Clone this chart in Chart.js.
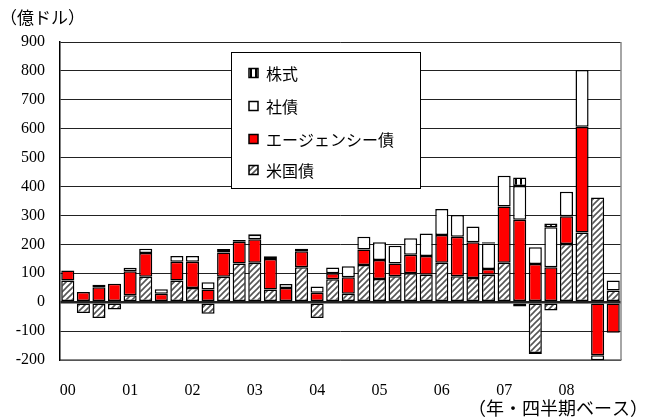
<!DOCTYPE html>
<html>
<head>
<meta charset="utf-8">
<script src="https://cdn.jsdelivr.net/npm/chart.js@4/dist/chart.umd.min.js"></script>
<style>
  html, body { margin: 0; padding: 0; background: #fff; }
  #wrap { width: 649px; height: 419px; position: relative; }
</style>
</head>
<body>
<div id="wrap"><canvas id="c" width="649" height="419"></canvas></div>
<script>
// Quarterly net purchases, 2000Q1 - 2008Q4 (units: 100 million dollars)
const yearLabels = ['00', '01', '02', '03', '04', '05', '06', '07', '08'];
const quarters = [];
yearLabels.forEach(y => { for (let q = 1; q <= 4; q++) quarters.push(y + 'Q' + q); });

const treasury = [
  75, -37, -55, -25,
  24, 88, -5, 75,
  49, -40, 88, 134,
  136, 44, 0, 121,
  -55, 79, 29, 129,
  80, 90, 100, 95,
  136, 90, 84, 95,
  136, -15, -176, -29,
  201, 241, 362, 40
];
const agency = [
  35, 35, 52, 64,
  83, 82, 29, 65,
  91, 44, 84, 75,
  82, 105, 49, 55,
  33, 21, 57, 53,
  66, 44, 64, 65,
  96, 136, 123, 20,
  195, 285, 132, 121,
  96, 366, -184, -106
];
const corporate = [
  0, 0, 0, 0,
  12, 15, 16, 20,
  20, 25, 2, 0,
  15, 10, 14, 9,
  21, 20, 38, 44,
  61, 61, 57, 78,
  90, 76, 55, 88,
  106, 117, 58, 138,
  85, 196, -17, 35
];
const equity = [
  0, 0, 8, 0,
  0, 0, 0, 0,
  0, 0, 10, 6,
  3, 0, 0, 0,
  0, 0, 0, 0,
  -4, 0, 0, 0,
  0, 0, 0, 4,
  0, 29, -3, 13,
  0, -5, 0, 0
];

const seriesNames = ['米国債', 'エージェンシー債', '社債', '株式'];

// Fill patterns
function hatchPattern() {
  const s = 6;
  const c = document.createElement('canvas');
  c.width = s; c.height = s;
  const g = c.getContext('2d');
  g.fillStyle = '#fff';
  g.fillRect(0, 0, s, s);
  g.strokeStyle = '#555';
  g.lineWidth = 1.6;
  g.beginPath();
  g.moveTo(-1, s + 1); g.lineTo(s + 1, -1);
  g.moveTo(-1, 1); g.lineTo(1, -1);
  g.moveTo(s - 1, s + 1); g.lineTo(s + 1, s - 1);
  g.stroke();
  return g.createPattern(c, 'repeat');
}
function stripePattern() {
  const c = document.createElement('canvas');
  c.width = 5; c.height = 4;
  const g = c.getContext('2d');
  g.fillStyle = '#fff';
  g.fillRect(0, 0, 5, 4);
  g.fillStyle = '#000';
  g.fillRect(0, 0, 2, 4);
  return g.createPattern(c, 'repeat');
}

const nz = arr => arr.map(v => (v === 0 ? null : v));

const barStyle = {
  borderColor: '#000',
  borderWidth: 1.5,
  borderSkipped: false,
  barPercentage: 0.84,
  categoryPercentage: 1.0
};

const datasets = [
  Object.assign({ label: seriesNames[0], data: nz(treasury), backgroundColor: hatchPattern() }, barStyle),
  Object.assign({ label: seriesNames[1], data: nz(agency), backgroundColor: '#ff0000' }, barStyle),
  Object.assign({ label: seriesNames[2], data: nz(corporate), backgroundColor: '#ffffff' }, barStyle),
  Object.assign({ label: seriesNames[3], data: nz(equity), backgroundColor: stripePattern() }, barStyle)
];

const jpFont = "'Noto Sans CJK JP', 'Noto Sans', sans-serif";
const numFont = "'Liberation Serif', 'DejaVu Serif', serif";

// Annotations, frame and in-plot legend
const decorations = {
  id: 'decorations',
  afterDraw(chart) {
    const ctx = chart.ctx;
    const a = chart.chartArea;
    ctx.save();

    // right frame
    ctx.strokeStyle = '#888';
    ctx.lineWidth = 1.5;
    ctx.beginPath();
    ctx.moveTo(a.right, a.top);
    ctx.lineTo(a.right, a.bottom);
    ctx.stroke();

    // unit caption and period caption
    ctx.fillStyle = '#000';
    ctx.font = '17px ' + jpFont;
    ctx.textBaseline = 'middle';
    ctx.textAlign = 'left';
    ctx.fillText('（億ドル）', 0, 18);
    ctx.font = '18px ' + jpFont;
    ctx.textAlign = 'right';
    ctx.fillText('（年・四半期ベース）', 648, 408);

    // legend
    const bx = 231.5, by = 52.5, bw = 189, bh = 136;
    ctx.fillStyle = '#fff';
    ctx.fillRect(bx, by, bw, bh);
    ctx.strokeStyle = '#000';
    ctx.lineWidth = 1;
    ctx.strokeRect(bx, by, bw, bh);

    const rows = [73, 106, 139, 170];
    const order = chart.data.datasets.slice().reverse();
    ctx.font = '16px ' + jpFont;
    ctx.textAlign = 'left';
    order.forEach((ds, i) => {
      const y = rows[i];
      ctx.fillStyle = ds.backgroundColor;
      ctx.fillRect(249, y - 4.5, 9, 9);
      ctx.strokeStyle = '#000';
      ctx.lineWidth = 1.5;
      ctx.strokeRect(249, y - 4.5, 9, 9);
      ctx.fillStyle = '#000';
      ctx.fillText(ds.label, 266, y + 1);
    });
    ctx.restore();
  }
};

new Chart(document.getElementById('c'), {
  type: 'bar',
  data: { labels: quarters, datasets: datasets },
  options: {
    responsive: false,
    animation: false,
    layout: { padding: { top: 42, right: 28, left: 0, bottom: 0 } },
    plugins: {
      legend: { display: false },
      tooltip: { enabled: false }
    },
    scales: {
      x: {
        stacked: true,
        grid: { display: false, drawTicks: false },
        border: { display: true, color: '#888', width: 1.5 },
        ticks: {
          autoSkip: false,
          maxRotation: 0,
          padding: 21,
          color: '#000',
          font: { family: numFont, size: 16 },
          callback: (v, i) => (i % 4 === 0 ? yearLabels[i / 4] : '')
        },
        afterFit: s => { s.height = 59; }
      },
      y: {
        stacked: true,
        min: -200,
        max: 900,
        grid: {
          drawTicks: false,
          color: '#222',
          lineWidth: c => (c.tick && c.tick.value === 0 ? 2.5 : 1)
        },
        border: { display: true, color: '#000', width: 1.5 },
        ticks: {
          stepSize: 100,
          padding: 15,
          color: '#000',
          font: { family: numFont, size: 16 }
        },
        afterFit: s => { s.width = 60; }
      }
    }
  },
  plugins: [decorations]
});
</script>
</body>
</html>
